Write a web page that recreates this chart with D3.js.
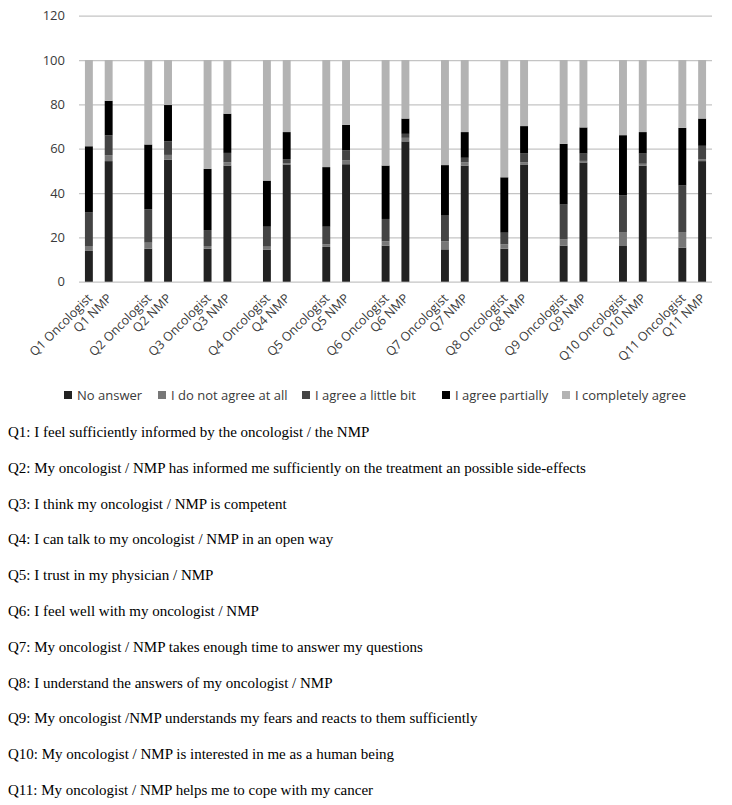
<!DOCTYPE html>
<meta charset="utf-8">
<style>
body { margin: 0; background: #fff; }
svg text { fill: #3a3a3a; }
.tick text { font: 13px "Open Sans", sans-serif; }
.legend text { font: 13px "Open Sans", sans-serif; }
.note { font: 15px "Liberation Serif", serif; fill: #000; }
</style>
<body>
<script src="https://cdn.jsdelivr.net/npm/d3@7"></script>
<script>

var questions = ["Q1", "Q2", "Q3", "Q4", "Q5", "Q6", "Q7", "Q8", "Q9", "Q10", "Q11"];
var keys = ["No answer", "I do not agree at all", "I agree a little bit", "I agree partially", "I completely agree"];
var colors = ["#222222", "#777777", "#444444", "#000000", "#b3b3b3"];

// cumulative tops (% from bottom) for the first four answers; the rest is "completely agree"
var oncologistTops = [
  [13.9, 16.1, 31.2, 61.1],
  [14.9, 17.6, 32.7, 61.9],
  [14.9, 16.1, 23.3, 50.9],
  [14.5, 15.8, 24.8, 45.6],
  [15.7, 16.9, 24.8, 51.7],
  [16.3, 18.2, 28.3, 52.4],
  [14.6, 18.2, 29.8, 52.6],
  [14.9, 16.9, 22.1, 47.1],
  [16.3, 19.1, 34.8, 62.2],
  [16.1, 22.4, 38.9, 66.1],
  [15.4, 22.4, 43.4, 69.4]
];
var nmpTops = [
  [54.4, 57.1, 66.0, 81.6],
  [55.1, 57.2, 63.3, 79.7],
  [52.4, 53.9, 58.1, 75.8],
  [52.9, 53.5, 55.3, 67.5],
  [53.0, 54.7, 59.2, 70.8],
  [63.3, 64.9, 66.7, 73.6],
  [52.4, 53.8, 55.9, 67.5],
  [52.9, 53.9, 58.0, 70.2],
  [53.8, 54.5, 57.8, 69.6],
  [52.4, 53.2, 57.8, 67.5],
  [54.4, 55.3, 61.3, 73.6]
];
var yTicks = [0, 20, 40, 60, 80, 100, 120];

var notes = [
  "Q1: I feel sufficiently informed by the oncologist / the NMP",
  "Q2: My oncologist / NMP has informed me sufficiently on the treatment an possible side-effects",
  "Q3: I think my oncologist / NMP is competent",
  "Q4: I can talk to my oncologist / NMP in an open way",
  "Q5: I trust in my physician / NMP",
  "Q6: I feel well with my oncologist / NMP",
  "Q7: My oncologist / NMP takes enough time to answer my questions",
  "Q8: I understand the answers of my oncologist / NMP",
  "Q9: My oncologist /NMP understands my fears and reacts to them sufficiently",
  "Q10: My oncologist / NMP is interested in me as a human being",
  "Q11: My oncologist / NMP helps me to cope with my cancer"
];

// category list: Onc, NMP, blank, ... (no blank after the last pair)
var rows = [];
questions.forEach(function(q, i) {
  rows.push({ name: q + " Oncologist", tops: oncologistTops[i] });
  rows.push({ name: q + " NMP", tops: nmpTops[i] });
  if (i < questions.length - 1) rows.push({ name: "gap" + i, tops: null });
});

var width = 732, height = 805;

var svg = d3.select("body").append("svg")
    .attr("width", width)
    .attr("height", height);

var x = d3.scaleBand()
    .domain(rows.map(function(d) { return d.name; }))
    .range([79, 712])
    .paddingInner(0.6)
    .paddingOuter(0.3);

var y = d3.scaleLinear()
    .domain([0, 120])
    .range([281.7, 15.7]);

// grid
svg.append("g")
    .attr("class", "y axis")
    .attr("transform", "translate(79,0)")
    .call(d3.axisLeft(y).tickValues(yTicks).tickSize(-633).tickPadding(14))
    .call(function(g) {
      g.select(".domain").remove();
      g.selectAll(".tick line").attr("stroke", "#c4c4c4").attr("stroke-width", 1.3);
    });

var stacked = rows.filter(function(d) { return d.tops; }).map(function(d) {
  var segs = [], prev = 0;
  d.tops.concat([100]).forEach(function(t, k) {
    segs.push({ key: keys[k], y0: prev, y1: t, k: k });
    prev = t;
  });
  return { name: d.name, segs: segs };
});

var bar = svg.append("g").selectAll("g")
    .data(stacked)
  .enter().append("g")
    .attr("transform", function(d) { return "translate(" + x(d.name) + ",0)"; });

bar.selectAll("rect")
    .data(function(d) { return d.segs; })
  .enter().append("rect")
    .attr("width", x.bandwidth())
    .attr("y", function(d) { return y(d.y1); })
    .attr("height", function(d) { return y(d.y0) - y(d.y1); })
    .attr("fill", function(d) { return colors[d.k]; });

// rotated category labels
svg.append("g").selectAll("text")
    .data(stacked)
  .enter().append("text")
    .style("font", "12.5px 'Open Sans', sans-serif")
    .attr("text-anchor", "end")
    .attr("transform", function(d) {
      return "translate(" + (x(d.name) + x.bandwidth() / 2 + 4) + ",299) rotate(-45)";
    })
    .text(function(d) { return d.name; });

// legend
var legendX = [64, 158, 302, 442, 562];
var legend = svg.append("g")
    .attr("class", "legend")
  .selectAll("g")
    .data(keys)
  .enter().append("g")
    .attr("transform", function(d, i) { return "translate(" + legendX[i] + ",391)"; });

legend.append("rect")
    .attr("width", 8)
    .attr("height", 8)
    .attr("fill", function(d, i) { return colors[i]; });

legend.append("text")
    .attr("x", 13)
    .attr("y", 9)
    .text(function(d) { return d; });

// question notes
svg.append("g").selectAll("text")
    .data(notes)
  .enter().append("text")
    .attr("class", "note")
    .attr("x", 8)
    .attr("y", function(d, i) { return 437 + i * 35.8; })
    .text(function(d) { return d; });

</script>
</body>
